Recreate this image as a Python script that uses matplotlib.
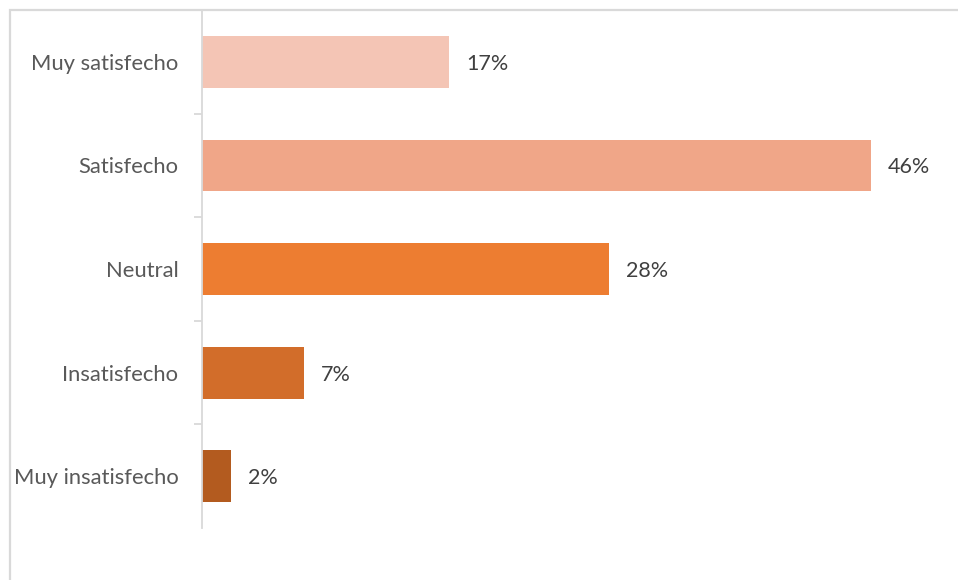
import matplotlib
matplotlib.use("Agg")
import matplotlib.pyplot as plt
from matplotlib.patches import Rectangle
from matplotlib.transforms import offset_copy

plt.rcParams['font.family'] = ['Lato', 'DejaVu Sans']

categories = ["Muy satisfecho", "Satisfecho", "Neutral", "Insatisfecho", "Muy insatisfecho"]
values = [17, 46, 28, 7, 2]
value_labels = ["17%", "46%", "28%", "7%", "2%"]
colors = ["#F4C5B5", "#F0A688", "#ED7D31", "#D26D2A", "#B35B1F"]

W, H = 958, 580
fig = plt.figure(figsize=(W / 100, H / 100), dpi=100)

# outer chart frame (light grey, runs off the right and bottom edges)
fig.patches.append(Rectangle((10 / W, -0.1), 1.2, (H - 10) / H + 0.1,
                             transform=fig.transFigure, fill=False,
                             edgecolor="#D9D9D9", linewidth=1.6))

left, right, top, bottom = 202, 929, 10, 528
ax = fig.add_axes([left / W, 1 - bottom / H, (right - left) / W, (bottom - top) / H])

y = list(range(len(categories)))
ax.barh(y, values, height=0.5, color=colors)
ax.set_xlim(0, 50)
ax.set_ylim(len(categories) - 0.5, -0.5)

for s in ["top", "right", "bottom"]:
    ax.spines[s].set_visible(False)
ax.spines["left"].set_color("#D9D9D9")
ax.spines["left"].set_linewidth(1.3)
ax.set_xticks([])

# tick marks between categories, labels at the centres
ax.set_yticks([i + 0.5 for i in range(-1, len(categories) - 1)])
ax.set_yticks(y, minor=True)
ax.set_yticklabels([])
ax.set_yticklabels(categories, minor=True)
ax.tick_params(axis="y", which="major", length=6, width=1.3, color="#D9D9D9")
ax.tick_params(axis="y", which="minor", length=0, pad=17, labelsize=15.8, labelcolor="#595959")
for t in ax.get_yticklabels(minor=True):
    t.set_verticalalignment("center_baseline")

for yi, v, lab in zip(y, values, value_labels):
    ax.text(v, yi, lab, transform=offset_copy(ax.transData, fig=fig, x=17, y=0, units="dots"),
            va="center_baseline", ha="left", fontsize=15.5, color="#404040")

fig.savefig("out.png", dpi=100)
